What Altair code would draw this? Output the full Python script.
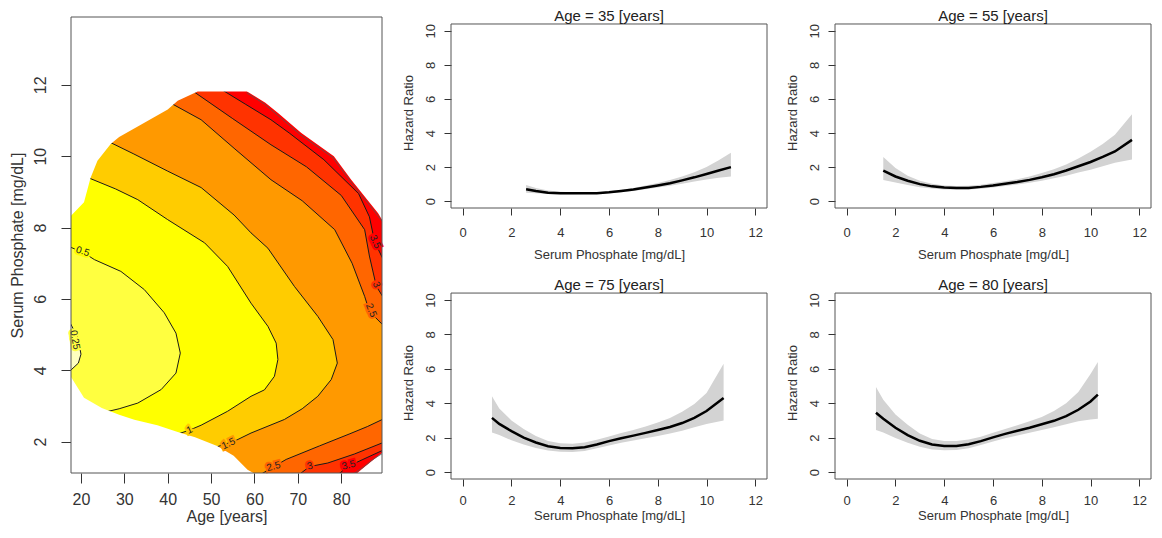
import altair as alt
import pandas as pd

FONT = "Liberation Sans"
TXT = "#333333"
FRAME = "#555555"

# ---------------- left panel: hazard-ratio contour map ----------------
AGE_MIN, AGE_MAX = 17.7, 89.4
PHOS_MIN, PHOS_MAX = 1.12, 13.9

# edge of the region that carries a colour
mask_left_phos = [1.05, 1.21, 1.6, 1.88, 2.12, 2.27, 2.46, 2.61, 2.75, 2.94, 3.23, 3.81,
                  8.33, 8.71, 9.39, 9.87, 10.35, 10.54, 10.88, 11.31, 11.55, 11.81, 11.82, 13.95]
mask_left_age = [60.8, 58.4, 55.2, 51.4, 46.3, 42.3, 37.6, 32.3, 28.8, 24.8, 20.7, 17.7,
                 17.7, 20.7, 22.2, 23.8, 26.9, 28.8, 33.8, 40.0, 42.3, 46.9, 90.2, 90.2]
mask_right_phos = [1.05, 1.3, 1.5, 1.68, 8.22, 8.4, 9.34, 10.0, 10.65, 11.2, 11.5, 11.81, 13.95]
mask_right_age = [83.0, 85.5, 87.5, 89.4, 89.4, 88.5, 82.3, 78.3, 70.8, 65.5, 62.5, 58.3, 58.3]

band_colors = ["#FFFFBF", "#FFFF40", "#FFFF00", "#FFCC00", "#FF9900", "#FF6600", "#FF3300", "#FF0000"]

# contour lines (age, phosphate), ordered by phosphate
c025_age = [17.2, 19.4, 20.0, 19.3, 17.2]
c025_phos = [3.95, 4.2, 4.45, 4.9, 5.4]
c05_age = [26.0, 28.8, 33.1, 38.5, 41.9, 42.9, 41.9, 39.2, 34.6, 29.2, 23.1, 20.8, 17.2]
c05_phos = [2.84, 2.92, 3.08, 3.46, 3.92, 4.48, 5.04, 5.61, 6.26, 6.77, 7.10, 7.28, 7.47]
c1_age = [42.5, 45.0, 47.7, 53.8, 59.2, 62.3, 64.6, 65.4, 65.0, 63.1, 59.2, 53.8, 48.5, 40.0, 33.1, 28.0, 22.0]
c1_phos = [2.22, 2.32, 2.46, 2.85, 3.27, 3.45, 3.83, 4.30, 4.76, 5.23, 5.88, 6.91, 7.57, 8.22, 8.78, 9.08, 9.38]
c15_age = [51.0, 55.5, 59.2, 66.9, 71.0, 74.6, 77.7, 79.1, 78.1, 74.6, 69.2, 63.1, 59.2, 55.3, 47.7, 40.0, 32.2, 26.5]
c15_phos = [1.84, 2.02, 2.24, 2.62, 2.92, 3.27, 3.74, 4.20, 4.86, 5.51, 6.35, 7.42, 7.85, 8.35, 9.12, 9.58, 10.06, 10.4]
c25_low_age = [61.0, 64.5, 67.3, 75.0, 82.0, 86.0, 90.0]
c25_low_phos = [1.05, 1.30, 1.50, 1.88, 2.22, 2.42, 2.65]
c25_up_age = [90.0, 86.5, 85.4, 82.5, 78.5, 71.0, 63.8, 55.5, 47.7, 40.5]
c25_up_phos = [5.22, 5.65, 6.07, 7.00, 7.94, 8.75, 9.34, 10.2, 11.02, 11.5]
c3_low_age = [70.0, 72.7, 76.9, 83.0, 90.0]
c3_low_phos = [1.05, 1.30, 1.40, 1.65, 1.99]
c3_up_age = [90.0, 88.1, 86.5, 85.4, 80.0, 72.0, 63.8, 55.0, 45.5]
c3_up_phos = [5.98, 6.35, 7.20, 7.94, 8.90, 9.70, 10.32, 11.05, 11.85]
c35_low_age = [79.0, 81.5, 85.0, 90.0]
c35_low_phos = [1.05, 1.30, 1.50, 1.78]
c35_up_age = [90.0, 87.7, 86.5, 84.0, 76.0, 68.0, 63.8, 58.0, 52.5]
c35_up_phos = [7.02, 7.60, 8.30, 8.95, 9.90, 10.65, 11.02, 11.45, 11.86]
c4_up_age = [89.4, 88.3, 82.1, 78.1, 70.6, 65.3, 62.3, 58.2]
c4_up_phos = [8.18, 8.36, 9.30, 9.96, 10.60, 11.15, 11.46, 11.78]
c4_low_age = [82.9, 85.3, 87.3, 89.4]
c4_low_phos = [1.10, 1.30, 1.50, 1.66]

label_text = ["0.25", "0.5", "1", "1.5", "2.5", "3", "3.5", "2.5", "3", "3.5"]
label_age = [18.6, 20.4, 45.0, 54.0, 64.4, 72.8, 81.7, 86.9, 88.1, 87.8]
label_phos = [4.85, 7.33, 2.32, 1.94, 1.30, 1.31, 1.34, 5.68, 6.40, 7.60]
label_angle = [80, 18, 335, 335, 345, 345, 345, 68, 68, 65]
label_halo = ["#FFFF40", "#FFFF00", "#FFCC00", "#FF9900", "#FF6600", "#FF3300", "#FF0000",
              "#FF6600", "#FF3300", "#FF0000"]

levels = [
    (band_colors[0], []),
    (band_colors[1], [(c025_age, c025_phos)]),
    (band_colors[2], [(c05_age, c05_phos)]),
    (band_colors[3], [(c1_age, c1_phos)]),
    (band_colors[4], [(c15_age, c15_phos)]),
    (band_colors[5], [(c25_low_age, c25_low_phos), (c25_up_age, c25_up_phos)]),
    (band_colors[6], [(c3_low_age, c3_low_phos), (c3_up_age, c3_up_phos)]),
    (band_colors[7], [(c35_low_age, c35_low_phos), (c35_up_age, c35_up_phos)]),
]

xsc = alt.Scale(domain=[AGE_MIN, AGE_MAX], nice=False, zero=False)
ysc = alt.Scale(domain=[PHOS_MIN, PHOS_MAX], nice=False, zero=False)
xax = alt.Axis(values=[20, 30, 40, 50, 60, 70, 80], title="Age [years]", grid=False, domain=False,
               tickSize=10, tickColor=TXT, labelFontSize=16, labelColor=TXT, labelPadding=8,
               titleFontSize=16, titleColor=TXT, titleFontWeight="normal", titlePadding=1,
               labelFont=FONT, titleFont=FONT)
yax = alt.Axis(values=[2, 4, 6, 8, 10, 12], title="Serum Phosphate [mg/dL]", grid=False, domain=False,
               tickSize=10, tickColor=TXT, labelFontSize=16, labelColor=TXT, labelPadding=13,
               labelAngle=270, labelAlign="center", labelBaseline="bottom",
               titleFontSize=16, titleColor=TXT, titleFontWeight="normal", titlePadding=7,
               labelFont=FONT, titleFont=FONT)
one_row = pd.DataFrame({"k": [0]})


def hband(df, color):
    return alt.Chart(df).mark_area(orient="horizontal", color=color, clip=True, opacity=1).encode(
        y=alt.Y("phos:Q", scale=ysc, axis=yax),
        x=alt.X("x:Q", scale=xsc, axis=xax),
        x2="x2:Q",
    )


layers = []
for color, pieces in levels:
    rows = []
    if pieces:
        first = pieces[0][1][0]
        if first > PHOS_MIN:
            rows += [(PHOS_MIN, AGE_MIN), (first - 0.005, AGE_MIN)]
        for ages, phs in pieces:
            rows += list(zip(phs, ages))
        last = pieces[-1][1][-1]
        rows += [(last + 0.005, AGE_MIN), (PHOS_MAX, AGE_MIN)]
    else:
        rows = [(PHOS_MIN, AGE_MIN), (PHOS_MAX, AGE_MIN)]
    df = pd.DataFrame(rows, columns=["phos", "x"])
    df["x2"] = AGE_MAX
    layers.append(hband(df, color))

# contour lines
line_rows = []
seg = 0
for ages, phs in [(c025_age, c025_phos), (c05_age, c05_phos), (c1_age, c1_phos), (c15_age, c15_phos),
                  (c25_low_age, c25_low_phos), (c25_up_age, c25_up_phos), (c3_low_age, c3_low_phos),
                  (c3_up_age, c3_up_phos), (c35_low_age, c35_low_phos), (c35_up_age, c35_up_phos)]:
    for i, (a, p) in enumerate(zip(ages, phs)):
        line_rows.append((seg, i, a, p))
    seg += 1
lines_df = pd.DataFrame(line_rows, columns=["seg", "i", "age", "phos"])
layers.append(alt.Chart(lines_df).mark_line(color="#1a1a1a", strokeWidth=1, clip=True).encode(
    x=alt.X("age:Q", scale=xsc, axis=xax), y=alt.Y("phos:Q", scale=ysc, axis=yax),
    detail="seg:N", order="i:Q"))

# white outside of the coloured region
ml = pd.DataFrame({"phos": mask_left_phos, "x": 17.0, "x2": mask_left_age})
mr = pd.DataFrame({"phos": mask_right_phos, "x": mask_right_age, "x2": 90.2})
layers.append(hband(ml, "white"))
layers.append(hband(mr, "white"))

edge_rows = [(0, i, a, p) for i, (a, p) in enumerate(zip(c4_up_age, c4_up_phos))] + \
            [(1, i, a, p) for i, (a, p) in enumerate(zip(c4_low_age, c4_low_phos))]
edge_df = pd.DataFrame(edge_rows, columns=["seg", "i", "age", "phos"])
layers.append(alt.Chart(edge_df).mark_line(color="#555555", strokeWidth=0.8, clip=True).encode(
    x=alt.X("age:Q", scale=xsc, axis=xax), y=alt.Y("phos:Q", scale=ysc, axis=yax),
    detail="seg:N", order="i:Q"))

lab_df = pd.DataFrame({"t": label_text, "age": label_age, "phos": label_phos,
                       "ang": label_angle, "halo": label_halo})
for ang in sorted(set(label_angle)):
    sub = lab_df[lab_df["ang"] == ang]
    halo = alt.Chart(sub).mark_text(fontSize=10, font=FONT, angle=ang, strokeWidth=4).encode(
        x=alt.X("age:Q", scale=xsc, axis=xax), y=alt.Y("phos:Q", scale=ysc, axis=yax),
        text="t:N", fill=alt.Fill("halo:N", scale=None), stroke=alt.Stroke("halo:N", scale=None))
    txt = alt.Chart(sub).mark_text(fontSize=10, font=FONT, angle=ang, color="#222222").encode(
        x=alt.X("age:Q", scale=xsc, axis=xax), y=alt.Y("phos:Q", scale=ysc, axis=yax), text="t:N")
    layers += [halo, txt]

# frame of the map
layers.append(alt.Chart(one_row).mark_rect(fillOpacity=0, stroke=FRAME, strokeWidth=1).encode(
    x=alt.X(datum=AGE_MIN, scale=xsc, axis=xax), x2=alt.datum(AGE_MAX),
    y=alt.Y(datum=PHOS_MIN, scale=ysc, axis=yax), y2=alt.datum(PHOS_MAX)))

left = alt.layer(*layers).properties(width=311, height=456)

# ---------------- right panels: hazard ratio curves ----------------
panel_ages = [35, 55, 75, 80]

phos35 = [2.6, 3.0, 3.5, 4.0, 4.5, 5.0, 5.5, 6.0, 6.5, 7.0, 7.5, 8.0, 8.5, 9.0, 9.5, 10.0, 10.5, 11.0]
hr35 = [0.70, 0.60, 0.50, 0.47, 0.46, 0.46, 0.47, 0.52, 0.60, 0.68, 0.80, 0.92, 1.05, 1.22, 1.40, 1.60, 1.80, 2.00]
lo35 = [0.50, 0.47, 0.42, 0.41, 0.41, 0.42, 0.43, 0.47, 0.53, 0.60, 0.70, 0.80, 0.90, 1.03, 1.15, 1.28, 1.38, 1.45]
hi35 = [0.95, 0.77, 0.62, 0.55, 0.52, 0.51, 0.52, 0.58, 0.67, 0.77, 0.92, 1.07, 1.25, 1.45, 1.70, 2.00, 2.40, 2.85]

phos55 = [1.5, 2.0, 2.5, 3.0, 3.5, 4.0, 4.5, 5.0, 5.5, 6.0, 6.5, 7.0, 7.5, 8.0, 8.5, 9.0, 9.5, 10.0, 10.5, 11.0, 11.7]
hr55 = [1.80, 1.45, 1.20, 1.00, 0.87, 0.80, 0.78, 0.78, 0.84, 0.92, 1.02, 1.12, 1.25, 1.40, 1.58, 1.80, 2.05, 2.30, 2.60, 2.92, 3.60]
lo55 = [1.25, 1.10, 0.95, 0.82, 0.74, 0.69, 0.68, 0.68, 0.73, 0.80, 0.89, 0.98, 1.08, 1.20, 1.34, 1.50, 1.68, 1.85, 2.05, 2.25, 2.45]
hi55 = [2.60, 1.95, 1.50, 1.20, 1.02, 0.92, 0.89, 0.90, 0.96, 1.06, 1.17, 1.29, 1.45, 1.65, 1.88, 2.15, 2.50, 2.90, 3.35, 3.90, 5.10]

phos75 = [1.2, 1.5, 2.0, 2.5, 3.0, 3.5, 4.0, 4.5, 5.0, 5.5, 6.0, 6.5, 7.0, 7.5, 8.0, 8.5, 9.0, 9.5, 10.0, 10.7]
hr75 = [3.15, 2.80, 2.38, 2.00, 1.72, 1.50, 1.40, 1.38, 1.45, 1.60, 1.80, 1.97, 2.12, 2.28, 2.45, 2.62, 2.85, 3.15, 3.55, 4.30]
lo75 = [2.30, 2.15, 1.85, 1.60, 1.40, 1.25, 1.18, 1.17, 1.23, 1.38, 1.55, 1.70, 1.84, 1.97, 2.10, 2.25, 2.40, 2.60, 2.80, 3.00]
hi75 = [4.40, 3.70, 3.00, 2.50, 2.10, 1.80, 1.67, 1.65, 1.72, 1.88, 2.07, 2.27, 2.45, 2.65, 2.88, 3.15, 3.50, 3.95, 4.60, 6.30]

phos80 = [1.2, 1.5, 2.0, 2.5, 3.0, 3.5, 4.0, 4.5, 5.0, 5.5, 6.0, 6.5, 7.0, 7.5, 8.0, 8.5, 9.0, 9.5, 10.0, 10.3]
hr80 = [3.45, 3.10, 2.58, 2.15, 1.82, 1.60, 1.52, 1.52, 1.62, 1.80, 2.02, 2.22, 2.40, 2.58, 2.78, 2.98, 3.25, 3.62, 4.10, 4.50]
lo80 = [2.45, 2.30, 1.98, 1.70, 1.48, 1.32, 1.27, 1.28, 1.38, 1.58, 1.78, 1.96, 2.12, 2.28, 2.45, 2.60, 2.78, 2.95, 3.05, 3.10]
hi80 = [4.95, 4.20, 3.35, 2.75, 2.25, 1.92, 1.80, 1.80, 1.90, 2.05, 2.28, 2.50, 2.72, 2.95, 3.20, 3.55, 4.00, 4.65, 5.70, 6.40]

PX_MIN, PX_MAX = -0.48, 12.48
HR_MIN, HR_MAX = -0.4, 10.4
HR_TOP = 10.81   # the drawing area reaches a little above the frame

px_sc = alt.Scale(domain=[PX_MIN, PX_MAX], nice=False, zero=False)
py_sc = alt.Scale(domain=[HR_MIN, HR_TOP], nice=False, zero=False)


def px_axis(label_pad, title_pad):
    return alt.Axis(values=[0, 2, 4, 6, 8, 10, 12], title="Serum Phosphate [mg/dL]", grid=False,
                    domain=False, tickSize=7, tickColor=TXT, labelFontSize=13, labelColor=TXT,
                    labelPadding=label_pad, titleFontSize=13, titleColor=TXT, titleFontWeight="normal",
                    titlePadding=title_pad, labelFont=FONT, titleFont=FONT)


py_ax = alt.Axis(values=[0, 2, 4, 6, 8, 10], title="Hazard Ratio", grid=False, domain=False,
                 tickSize=7, tickColor=TXT, labelFontSize=13, labelColor=TXT, labelPadding=7,
                 labelAngle=270, labelAlign="center", labelBaseline="bottom",
                 titleFontSize=13, titleColor=TXT, titleFontWeight="normal", titlePadding=9,
                 labelFont=FONT, titleFont=FONT)


def hr_panel(age, phos, hr, lo, hi, height, px_ax):
    df = pd.DataFrame({"phos": phos, "hr": hr, "lo": lo, "hi": hi})
    band = alt.Chart(df).mark_area(color="#D3D3D3").encode(
        x=alt.X("phos:Q", scale=px_sc, axis=px_ax),
        y=alt.Y("lo:Q", scale=py_sc, axis=py_ax), y2="hi:Q")
    line = alt.Chart(df).mark_line(color="black", strokeWidth=2.5).encode(
        x=alt.X("phos:Q", scale=px_sc, axis=px_ax),
        y=alt.Y("hr:Q", scale=py_sc, axis=py_ax))
    frame = alt.Chart(one_row).mark_rect(fillOpacity=0, stroke=FRAME, strokeWidth=1).encode(
        x=alt.X(datum=PX_MIN, scale=px_sc, axis=px_ax), x2=alt.datum(PX_MAX),
        y=alt.Y(datum=HR_MIN, scale=py_sc, axis=py_ax), y2=alt.datum(HR_MAX))
    ttl = pd.DataFrame({"t": [f"Age = {age} [years]"]})
    title = alt.Chart(ttl).mark_text(fontSize=15, font=FONT, color="#222222", baseline="alphabetic",
                                     align="center", dy=-3).encode(
        x=alt.X(datum=(PX_MIN + PX_MAX) / 2, scale=px_sc, axis=px_ax),
        y=alt.Y(datum=HR_MAX, scale=py_sc, axis=py_ax), text="t:N")
    return alt.layer(band, line, frame, title).properties(width=316, height=height)


series = [(phos35, hr35, lo35, hi35), (phos55, hr55, lo55, hi55),
          (phos75, hr75, lo75, hi75), (phos80, hr80, lo80, hi80)]
heights = [191, 191, 193, 193]
axes = [px_axis(11, 9), px_axis(11, 9), px_axis(8, 2), px_axis(8, 2)]
panels = [hr_panel(a, *d, h, ax) for a, d, h, ax in zip(panel_ages, series, heights, axes)]

col1 = alt.vconcat(panels[0], panels[2], spacing=15)
col2 = alt.vconcat(panels[1], panels[3], spacing=15)

chart = alt.hconcat(left, col1, col2, spacing=17).properties(
    padding={"top": 0, "left": 0, "right": 0, "bottom": 0})
chart = chart.configure(font=FONT).configure_view(stroke="transparent")

chart.save("out.html", embed_options={"renderer": "svg", "actions": False})
